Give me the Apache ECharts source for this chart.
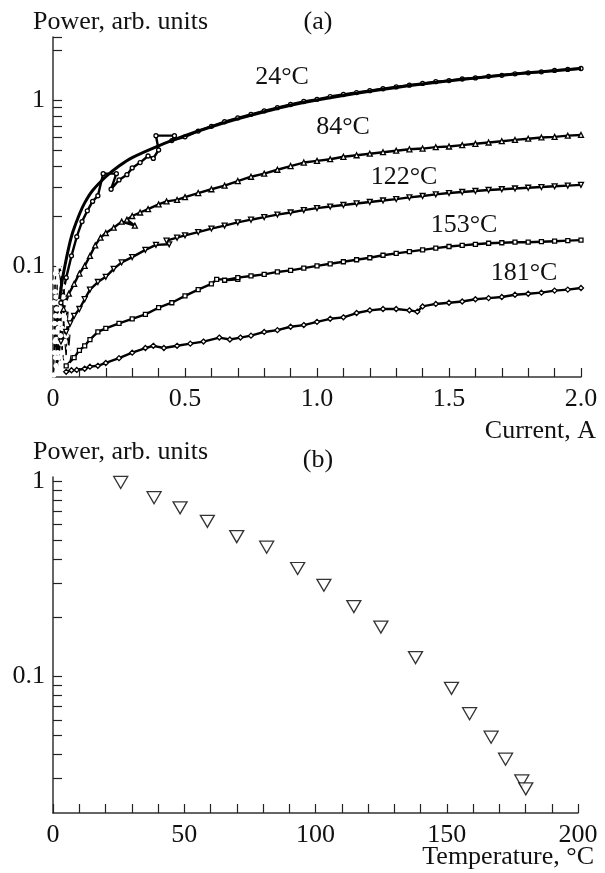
<!DOCTYPE html>
<html>
<head>
<meta charset="utf-8">
<script src="https://cdn.jsdelivr.net/npm/echarts@6/dist/echarts.min.js"></script>
<style>
html,body{margin:0;padding:0;background:#fff;}
#chart{width:605px;height:873px;}
</style>
</head>
<body>
<div id="chart"></div>
<script>
// ---------- Panel (a): power vs current, [current A, power arb.u.] ----------
const fit24 = [[0.025,0.063],[0.035,0.082],[0.045,0.1],[0.06,0.13],[0.075,0.16],[0.1,0.205],[0.12,0.24],[0.15,0.285],[0.2,0.345],[0.25,0.40],[0.3,0.45],[0.4,0.53],[0.5,0.61],[0.6,0.69],[0.7,0.77],[0.8,0.85],[0.9,0.93],[1.0,1.0],[1.2,1.13],[1.4,1.25],[1.6,1.36],[1.8,1.46],[2.0,1.55]];
const data24 = [[0.03,0.06],[0.05,0.085],[0.07,0.115],[0.09,0.15],[0.11,0.185],[0.13,0.215],[0.15,0.245],[0.17,0.265],[0.19,0.36],[0.24,0.36],[0.22,0.29],[0.25,0.33],[0.28,0.355],[0.3,0.39],[0.33,0.42],[0.36,0.46],[0.38,0.445],[0.40,0.50],[0.39,0.61],[0.46,0.61],[0.45,0.57],[0.5,0.60],[0.55,0.65],[0.6,0.695],[0.65,0.74],[0.7,0.78],[0.75,0.82],[0.8,0.86],[0.85,0.90],[0.9,0.94],[0.95,0.98],[1.0,1.01],[1.05,1.05],[1.1,1.08],[1.15,1.11],[1.2,1.14],[1.25,1.17],[1.3,1.2],[1.35,1.23],[1.4,1.26],[1.45,1.29],[1.5,1.31],[1.55,1.34],[1.6,1.36],[1.65,1.39],[1.7,1.41],[1.75,1.44],[1.8,1.46],[1.85,1.48],[1.9,1.51],[1.95,1.53],[2.0,1.55]];
const data84 = [[0.04,0.055],[0.06,0.068],[0.08,0.078],[0.10,0.09],[0.12,0.10],[0.14,0.115],[0.16,0.133],[0.18,0.148],[0.2,0.158],[0.23,0.17],[0.26,0.185],[0.31,0.175],[0.28,0.19],[0.3,0.20],[0.33,0.21],[0.36,0.22],[0.4,0.235],[0.43,0.245],[0.47,0.25],[0.5,0.26],[0.55,0.275],[0.6,0.29],[0.65,0.305],[0.7,0.325],[0.75,0.345],[0.8,0.36],[0.85,0.38],[0.9,0.40],[0.95,0.42],[1.0,0.43],[1.05,0.44],[1.1,0.455],[1.15,0.465],[1.2,0.475],[1.25,0.485],[1.3,0.495],[1.35,0.505],[1.4,0.51],[1.45,0.52],[1.5,0.525],[1.55,0.535],[1.6,0.545],[1.65,0.555],[1.7,0.565],[1.75,0.575],[1.8,0.585],[1.85,0.595],[1.9,0.60],[1.95,0.61],[2.0,0.616]];
const data122 = [[0.03,0.035],[0.05,0.04],[0.065,0.045],[0.08,0.05],[0.1,0.055],[0.12,0.063],[0.14,0.072],[0.17,0.08],[0.2,0.086],[0.23,0.096],[0.26,0.105],[0.3,0.113],[0.35,0.125],[0.39,0.134],[0.44,0.135],[0.43,0.142],[0.47,0.148],[0.5,0.153],[0.55,0.16],[0.6,0.168],[0.65,0.175],[0.7,0.183],[0.75,0.19],[0.8,0.197],[0.85,0.204],[0.9,0.21],[0.95,0.217],[1.0,0.223],[1.05,0.228],[1.1,0.233],[1.15,0.238],[1.2,0.243],[1.25,0.248],[1.3,0.253],[1.35,0.259],[1.4,0.264],[1.45,0.27],[1.5,0.275],[1.55,0.279],[1.6,0.283],[1.65,0.287],[1.7,0.29],[1.75,0.293],[1.8,0.296],[1.85,0.299],[1.9,0.302],[1.95,0.305],[2.0,0.308]];
const data153 = [[0.05,0.025],[0.08,0.028],[0.1,0.031],[0.12,0.033],[0.14,0.036],[0.17,0.04],[0.2,0.042],[0.25,0.045],[0.3,0.048],[0.35,0.051],[0.4,0.056],[0.45,0.06],[0.5,0.066],[0.55,0.072],[0.6,0.078],[0.62,0.083],[0.7,0.083],[0.65,0.082],[0.7,0.085],[0.75,0.087],[0.8,0.089],[0.85,0.092],[0.9,0.094],[0.95,0.097],[1.0,0.1],[1.05,0.103],[1.1,0.106],[1.15,0.109],[1.2,0.112],[1.25,0.116],[1.3,0.119],[1.35,0.122],[1.4,0.125],[1.45,0.128],[1.5,0.131],[1.55,0.133],[1.6,0.135],[1.65,0.137],[1.7,0.138],[1.75,0.139],[1.8,0.139],[1.85,0.14],[1.9,0.141],[1.95,0.142],[2.0,0.143]];
const data181 = [[0.05,0.023],[0.07,0.0235],[0.09,0.0236],[0.12,0.024],[0.14,0.0247],[0.17,0.025],[0.2,0.026],[0.25,0.0278],[0.3,0.03],[0.35,0.032],[0.38,0.033],[0.42,0.032],[0.47,0.033],[0.52,0.034],[0.57,0.035],[0.63,0.037],[0.67,0.036],[0.71,0.037],[0.75,0.038],[0.8,0.04],[0.85,0.041],[0.9,0.043],[0.95,0.044],[1.0,0.046],[1.05,0.048],[1.1,0.049],[1.15,0.052],[1.2,0.054],[1.25,0.055],[1.3,0.055],[1.35,0.054],[1.38,0.053],[1.4,0.057],[1.45,0.059],[1.5,0.06],[1.55,0.061],[1.6,0.063],[1.65,0.064],[1.7,0.065],[1.75,0.067],[1.8,0.068],[1.85,0.069],[1.9,0.071],[1.95,0.072],[2.0,0.0736]];
const lowCurrent = [[0.003,0.022],[0.006,0.045],[0.004,0.06],[0.01,0.09],[0.008,0.07],[0.012,0.025],[0.015,0.04],[0.016,0.08],[0.01,0.05],[0.02,0.06],[0.018,0.035],[0.022,0.028],[0.025,0.045],[0.03,0.055],[0.028,0.038],[0.035,0.03],[0.04,0.05],[0.038,0.065],[0.045,0.035],[0.05,0.028],[0.055,0.045],[0.06,0.032],[0.065,0.04],[0.005,0.03],[0.012,0.065],[0.02,0.024],[0.008,0.035],[0.014,0.055],[0.006,0.08],[0.018,0.03],[0.024,0.05],[0.004,0.04],[0.03,0.026],[0.01,0.028],[0.035,0.042],[0.016,0.023],[0.04,0.075],[0.048,0.06],[0.026,0.07],[0.034,0.09],[0.022,0.1],[0.044,0.048],[0.058,0.055],[0.05,0.038],[0.07,0.03],[0.062,0.025],[0.042,0.026],[0.032,0.034],[0.02,0.042],[0.012,0.036]];
const curveLabels = ['24°C','84°C','122°C','153°C','181°C'];
const yTicksA = [0.03,0.04,0.05,0.06,0.07,0.08,0.09,0.1,0.2,0.3,0.4,0.5,0.6,0.7,0.8,0.9,1,2,2.4];

// ---------- Panel (b): power vs temperature ----------
const temperatures = [25.8,38.5,48.4,58.8,70,81.4,93.2,103.2,114.6,124.9,138.1,151.8,158.7,166.9,172.4,178.6,180.1];
const powers       = [0.985,0.823,0.73,0.623,0.52,0.459,0.357,0.293,0.228,0.179,0.125,0.087,0.0645,0.0489,0.0377,0.0292,0.0266];
const yTicksB = [0.03,0.04,0.05,0.06,0.07,0.08,0.09,0.1,0.2,0.3,0.4,0.5,0.6,0.7,0.8,0.9,1];

const FONT = 'Liberation Serif, Times New Roman, serif';
const INK = '#111';

function xAxisBase(grid, min, max, interval, fmt) {
  return {
    type: 'value', gridIndex: grid, min: min, max: max, interval: interval,
    axisLine: {show: true, lineStyle: {color: '#333', width: 1.5}},
    axisTick: {show: true, inside: true, length: 9, lineStyle: {color: '#222', width: 1.2}},
    minorTick: {show: true, splitNumber: 5, length: 9, lineStyle: {color: '#222', width: 1.2}},
    splitLine: {show: false}, minorSplitLine: {show: false},
    axisLabel: {color: INK, fontFamily: FONT, fontSize: 26, margin: 9, formatter: fmt}
  };
}
function yAxisBase(grid, min, max, ticks) {
  return {
    type: 'log', gridIndex: grid, min: min, max: max,
    axisLine: {show: true, lineStyle: {color: '#333', width: 1.5}},
    axisTick: {show: true, inside: true, length: 9, customValues: ticks, lineStyle: {color: '#222', width: 1.2}},
    splitLine: {show: false},
    axisLabel: {color: INK, fontFamily: FONT, fontSize: 26, margin: 8, customValues: [0.1, 1],
      formatter: v => (Math.abs(v - 1) < 1e-6 ? '1' : '0.1')}
  };
}
function dataSeries(data, symbol, size, rotate, lw) {
  return {
    type: 'line', xAxisIndex: 0, yAxisIndex: 0, data: data,
    symbol: symbol, symbolSize: size, symbolRotate: rotate || 0, showSymbol: true,
    lineStyle: {color: '#000', width: lw || 2.4},
    itemStyle: {color: '#fff', borderColor: '#000', borderWidth: 1.3},
    animation: false, silent: true, z: 3
  };
}

const chart = echarts.init(document.getElementById('chart'), null, {renderer: 'canvas'});
const txt = (t, x, y, align) => ({type: 'text', x: x, y: y, style: {text: t, fill: INK, font: '26px ' + FONT, textAlign: align || 'center', textVerticalAlign: 'middle'}});

chart.setOption({
  backgroundColor: '#fff',
  animation: false,
  grid: [
    {left: 53, top: 37, width: 528, height: 340, containLabel: false},
    {left: 53, top: 477, width: 525, height: 336, containLabel: false}
  ],
  xAxis: [
    xAxisBase(0, 0, 2, 0.5, v => (v === 0 ? '0' : v.toFixed(1))),
    xAxisBase(1, 0, 200, 50, v => String(v))
  ],
  yAxis: [
    yAxisBase(0, 0.0214, 2.4, yTicksA),
    yAxisBase(1, 0.02, 1.05, yTicksB)
  ],
  graphic: [
    txt('Power, arb. units', 33, 22, 'left'),
    txt('(a)', 318, 22),
    txt('Current, A', 596, 431, 'right'),
    txt('Power, arb. units', 33, 452, 'left'),
    txt('(b)', 318, 460),
    txt('Temperature, °C', 594, 857, 'right'),
    txt(curveLabels[0], 282, 77),
    txt(curveLabels[1], 343, 127),
    txt(curveLabels[2], 404, 177),
    txt(curveLabels[3], 464, 225),
    txt(curveLabels[4], 524, 273)
  ],
  series: [
    dataSeries(lowCurrent, 'emptyCircle', 3.5, 0, 1.2),
    dataSeries(data181, 'diamond', 5),
    dataSeries(data153, 'rect', 4),
    dataSeries(data122, 'triangle', 5, 180),
    dataSeries(data84, 'triangle', 5),
    dataSeries(data24, 'circle', 4),
    {
      type: 'line', xAxisIndex: 0, yAxisIndex: 0, data: fit24, smooth: 0.3, showSymbol: false,
      symbol: 'none', lineStyle: {color: '#000', width: 3}, animation: false, silent: true, z: 4
    },
    {
      type: 'scatter', xAxisIndex: 1, yAxisIndex: 1,
      data: temperatures.map((t, i) => [t, powers[i]]),
      symbol: 'triangle', symbolRotate: 180, symbolSize: [14, 12],
      itemStyle: {color: '#fff', borderColor: '#000', borderWidth: 1.3},
      animation: false, silent: true
    }
  ]
});
</script>
</body>
</html>
